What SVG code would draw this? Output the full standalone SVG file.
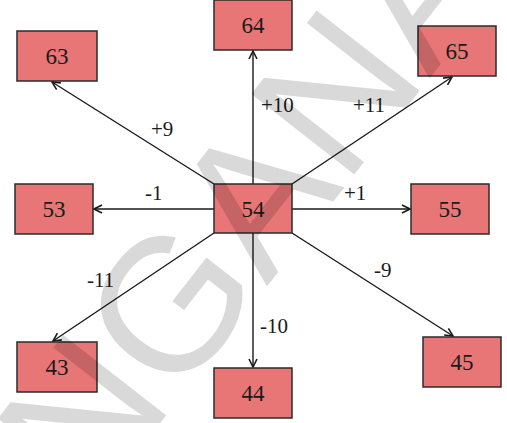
<svg xmlns="http://www.w3.org/2000/svg" width="507" height="423" viewBox="0 0 507 423">
  <defs>
    <style>
      .box { fill: #E87676; stroke: #2b2b2b; stroke-width: 1.5; }
      .num { font-family: "Times New Roman", Times, "Liberation Serif", Tinos, "Noto Serif", "DejaVu Serif", serif; font-size: 23px; fill: #1a1a1a; text-anchor: middle; }
      .lbl { font-family: "Times New Roman", Times, "Liberation Serif", Tinos, "Noto Serif", "DejaVu Serif", serif; font-size: 21px; fill: #1a1a1a; }
      .edge { stroke: #1a1a1a; stroke-width: 1.4; fill: none; marker-end: url(#arr); }
      .wm { font-family: "Liberation Sans", Arial, sans-serif; font-size: 190px; fill: #000; fill-opacity: 0.15; }
    </style>
    <marker id="arr" viewBox="0 0 10 10" refX="9" refY="5" markerWidth="10" markerHeight="10" markerUnits="userSpaceOnUse" orient="auto">
      <path d="M1,1 L9,5 L1,9" fill="none" stroke="#1a1a1a" stroke-width="1.6"/>
    </marker>
  </defs>
  <rect width="507" height="423" fill="#ffffff"/>

  <g id="connectors">
    <line class="edge" x1="253" y1="184" x2="253" y2="51"/>
    <line class="edge" x1="214" y1="184" x2="52" y2="82"/>
    <line class="edge" x1="292" y1="184" x2="452" y2="77"/>
    <line class="edge" x1="214" y1="209" x2="94" y2="209"/>
    <line class="edge" x1="292" y1="209" x2="410" y2="209"/>
    <line class="edge" x1="214" y1="233" x2="53" y2="341"/>
    <line class="edge" x1="253" y1="233" x2="253" y2="367"/>
    <line class="edge" x1="292" y1="233" x2="453" y2="336"/>
  </g>

  <g id="edge-labels">
    <text class="lbl" x="261" y="112">+10</text>
    <text class="lbl" x="353" y="112">+11</text>
    <text class="lbl" x="151" y="136">+9</text>
    <text class="lbl" x="145" y="200">-1</text>
    <text class="lbl" x="344" y="200">+1</text>
    <text class="lbl" x="87" y="287">-11</text>
    <text class="lbl" x="260" y="333">-10</text>
    <text class="lbl" x="374" y="277">-9</text>
  </g>

  <g id="nodes">
    <g id="n64"><rect class="box" x="214" y="0" width="78" height="50"/><text class="num" x="253" y="33">64</text></g>
    <g id="n63"><rect class="box" x="17" y="31" width="80" height="50"/><text class="num" x="57" y="64">63</text></g>
    <g id="n65"><rect class="box" x="418" y="26" width="78" height="50"/><text class="num" x="457" y="59">65</text></g>
    <g id="n53"><rect class="box" x="15" y="184" width="78" height="50"/><text class="num" x="54" y="217">53</text></g>
    <g id="n54"><rect class="box" x="214" y="184" width="78" height="49"/><text class="num" x="253" y="217">54</text></g>
    <g id="n55"><rect class="box" x="411" y="184" width="78" height="50"/><text class="num" x="450" y="217">55</text></g>
    <g id="n43"><rect class="box" x="17" y="342" width="80" height="50"/><text class="num" x="57" y="375">43</text></g>
    <g id="n44"><rect class="box" x="214" y="368" width="78" height="50"/><text class="num" x="253" y="401">44</text></g>
    <g id="n45"><rect class="box" x="423" y="337" width="78" height="50"/><text class="num" x="462" y="370">45</text></g>
  </g>

  <text class="wm" x="0" y="0" text-anchor="middle" transform="translate(248,205) rotate(-52) translate(0,65)">NGANA</text>
</svg>
